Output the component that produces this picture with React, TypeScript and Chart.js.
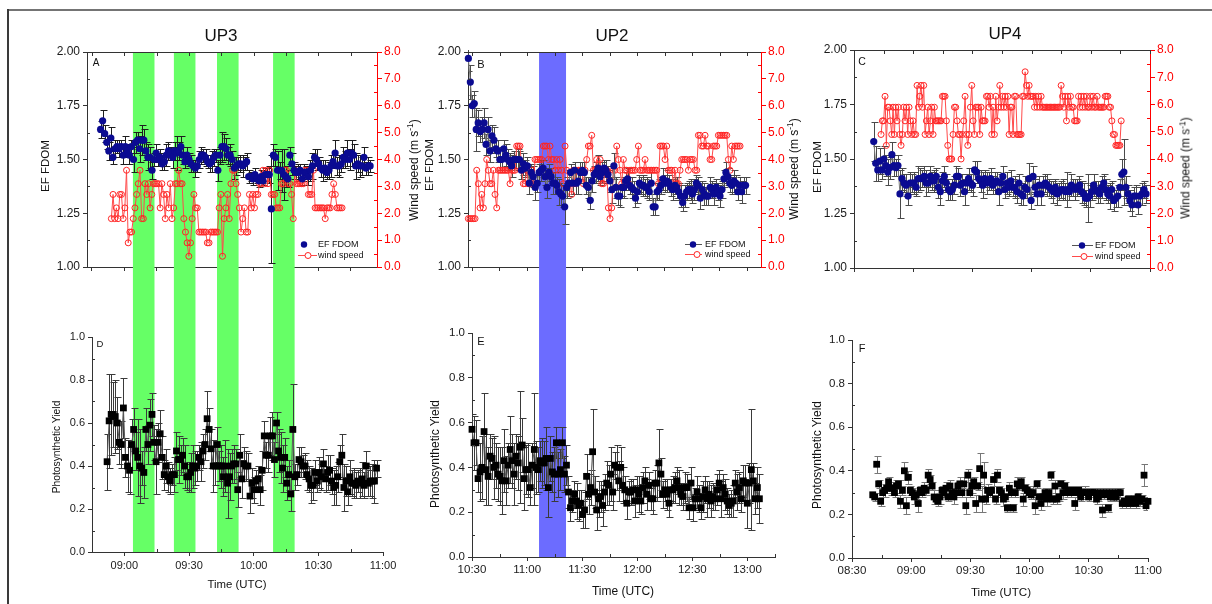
import React, { useEffect, useRef } from "react";
import { Chart, registerables } from "chart.js";

Chart.register(...registerables);

const FONT = '"Liberation Sans", Arial, Helvetica, sans-serif';

// ======================= DATA =======================
// UP3 (column 1)
const UP3_BANDS = [["09:04", "09:14"], ["09:23", "09:33"], ["09:43", "09:53"], ["10:09", "10:19"]];
const UP3_TOP_RANGE = ["08:42.7", "10:57.2"];
const UP3_BOTTOM_RANGE = ["08:45", "11:00"];
const UP3_EF_TIME = ["08:49", "10:54"];
const UP3_EF = [
  1.64, 1.68, 1.62, 1.58, 1.54, 1.60, 1.51, 1.55, 1.56, 1.55,
  1.56, 1.52, 1.56, 1.54, 1.52, 1.56, 1.50, 1.58, 1.59, 1.55,
  1.59, 1.59, 1.54, 1.51, 1.51, 1.45, 1.50, 1.53, 1.50, 1.51,
  1.48, 1.49, 1.52, 1.54, 1.53, 1.51, 1.54, 1.53, 1.54, 1.56,
  1.52, 1.49, 1.52, 1.50, 1.48, 1.47, 1.46, 1.47, 1.50, 1.52,
  1.52, 1.51, 1.49, 1.48, 1.49, 1.51, 1.52, 1.45, 1.52, 1.56,
  1.56, 1.55, 1.52, 1.52, 1.50, 1.46, 1.47, 1.48, 1.48, 1.47,
  1.48, 1.49, 1.42, 1.42, 1.41, 1.43, 1.41, 1.40, 1.42, 1.40,
  1.43, 1.43, 1.43, 1.27, 1.52, 1.51, 1.45, 1.45, 1.45, 1.43,
  1.42, 1.41, 1.52, 1.48, 1.45, 1.44, 1.44, 1.45, 1.41, 1.44,
  1.44, 1.42, 1.45, 1.47, 1.51, 1.50, 1.48, 1.46, 1.45, 1.46,
  1.44, 1.45, 1.47, 1.49, 1.53, 1.47, 1.47, 1.48, 1.51, 1.50,
  1.53, 1.50, 1.53, 1.52, 1.47, 1.48, 1.47, 1.47, 1.51, 1.46,
  1.47, 1.47,
];
const UP3_EF_ERR = [
  0.04, 0.05, 0.04, 0.03, 0.04, 0.05, 0.03, 0.04, 0.03, 0.04,
  0.03, 0.04, 0.05, 0.03, 0.04, 0.03, 0.06, 0.05, 0.04, 0.06,
  0.07, 0.05, 0.04, 0.06, 0.05, 0.04, 0.03, 0.04, 0.03, 0.04,
  0.03, 0.04, 0.05, 0.04, 0.03, 0.05, 0.04, 0.08, 0.04, 0.05,
  0.04, 0.03, 0.04, 0.03, 0.04, 0.03, 0.04, 0.03, 0.04, 0.04,
  0.03, 0.04, 0.03, 0.04, 0.05, 0.04, 0.03, 0.05, 0.04, 0.07,
  0.06, 0.05, 0.04, 0.05, 0.04, 0.05, 0.04, 0.03, 0.04, 0.05,
  0.03, 0.04, 0.03, 0.02, 0.03, 0.03, 0.02, 0.03, 0.03, 0.02,
  0.03, 0.03, 0.04, 0.25, 0.05, 0.04, 0.09, 0.04, 0.10, 0.12,
  0.05, 0.04, 0.04, 0.05, 0.04, 0.03, 0.04, 0.03, 0.03, 0.04,
  0.03, 0.04, 0.05, 0.06, 0.04, 0.05, 0.03, 0.04, 0.05, 0.04,
  0.03, 0.04, 0.05, 0.03, 0.06, 0.04, 0.05, 0.04, 0.05, 0.04,
  0.06, 0.05, 0.06, 0.05, 0.06, 0.04, 0.05, 0.04, 0.05, 0.03,
  0.04, 0.03,
];
const UP3_WIND_TIME = ["08:54", "10:41"];
const UP3_WIND = [
  1.8, 2.7, 1.8, 2.2, 1.8, 2.7, 2.7, 1.8, 2.2, 3.6,
  0.9, 1.3, 1.3, 1.8, 2.2, 2.7, 3.1, 3.6, 1.8, 1.8,
  3.1, 2.7, 3.1, 2.2, 2.7, 3.1, 3.1, 3.1, 3.1, 2.2,
  3.1, 2.7, 1.8, 2.7, 2.2, 3.1, 1.8, 2.2, 3.1, 3.1,
  3.6, 3.1, 3.1, 1.8, 1.3, 0.9, 0.4, 0.9, 1.8, 2.7,
  2.2, 2.2, 1.3, 1.3, 1.3, 1.3, 1.3, 0.9, 0.9, 1.3,
  1.3, 1.3, 1.3, 1.3, 2.2, 2.7, 0.4, 1.8, 2.2, 2.7,
  1.8, 3.1, 3.6, 3.6, 3.1, 2.7, 2.2, 1.3, 1.8, 2.2,
  1.3, 1.3, 2.7, 2.2, 2.7, 2.2, 2.7, 2.7, 3.1, 3.1,
  3.6, 3.1, 3.6, 3.1, 3.6, 2.7, 2.7, 2.7, 2.2, 2.2,
  2.2, 3.1, 3.1, 3.6, 3.6, 3.1, 3.1, 2.7, 1.8, 3.6,
  3.1, 3.1, 3.1, 3.1, 3.1, 3.6, 3.6, 2.7, 2.7, 2.7,
  3.6, 2.2, 2.2, 2.2, 2.2, 2.2, 2.2, 1.8, 2.2, 2.2,
  2.2, 2.7, 3.1, 2.7, 2.2, 2.2, 2.2, 2.2,
];
const UP3_YIELD_TIME = ["08:52", "10:57"];
const UP3_YIELD = [
  0.42, 0.61, 0.64, 0.64, 0.63, 0.60, 0.51, 0.50, 0.67, 0.44,
  0.40, 0.38, 0.50, 0.57, 0.47, 0.44, 0.40, 0.39, 0.37, 0.57,
  0.50, 0.59, 0.64, 0.51, 0.42, 0.51, 0.55, 0.44, 0.36, 0.40,
  0.35, 0.33, 0.36, 0.36, 0.47, 0.43, 0.43, 0.45, 0.40, 0.35,
  0.35, 0.37, 0.40, 0.39, 0.40, 0.44, 0.42, 0.47, 0.50, 0.62,
  0.57, 0.48, 0.40, 0.40, 0.50, 0.40, 0.40, 0.35, 0.40, 0.32,
  0.35, 0.40, 0.41, 0.41, 0.29, 0.45, 0.34, 0.41, 0.40, 0.40,
  0.26, 0.32, 0.29, 0.33, 0.34, 0.29, 0.38, 0.54, 0.45, 0.45,
  0.54, 0.54, 0.43, 0.60, 0.47, 0.44, 0.39, 0.44, 0.32, 0.36,
  0.27, 0.57, 0.35, 0.36, 0.43, 0.42, 0.40, 0.40, 0.36, 0.34,
  0.31, 0.31, 0.37, 0.33, 0.37, 0.35, 0.41, 0.34, 0.37, 0.38,
  0.33, 0.30, 0.31, 0.35, 0.42, 0.45, 0.30, 0.33, 0.28, 0.35,
  0.32, 0.32, 0.31, 0.33, 0.32, 0.34, 0.31, 0.40, 0.32, 0.33,
  0.33, 0.33, 0.39,
];
const UP3_YIELD_ERR = [
  0.13, 0.22, 0.19, 0.15, 0.17, 0.12, 0.10, 0.11, 0.14, 0.09,
  0.12, 0.11, 0.12, 0.10, 0.09, 0.18, 0.17, 0.08, 0.12, 0.10,
  0.09, 0.12, 0.10, 0.08, 0.15, 0.09, 0.11, 0.10, 0.07, 0.08,
  0.07, 0.06, 0.05, 0.08, 0.09, 0.11, 0.07, 0.08, 0.10, 0.06,
  0.07, 0.09, 0.10, 0.08, 0.07, 0.06, 0.09, 0.08, 0.07, 0.13,
  0.10, 0.09, 0.12, 0.09, 0.08, 0.07, 0.10, 0.09, 0.12, 0.16,
  0.11, 0.08, 0.09, 0.07, 0.08, 0.10, 0.09, 0.08, 0.07, 0.06,
  0.08, 0.07, 0.06, 0.05, 0.06, 0.07, 0.09, 0.07, 0.06, 0.08,
  0.09, 0.11, 0.08, 0.05, 0.10, 0.12, 0.11, 0.09, 0.08, 0.07,
  0.08, 0.21, 0.06, 0.05, 0.06, 0.07, 0.05, 0.06, 0.07, 0.06,
  0.08, 0.07, 0.06, 0.05, 0.07, 0.06, 0.07, 0.06, 0.08, 0.07,
  0.06, 0.08, 0.09, 0.07, 0.08, 0.10, 0.11, 0.07, 0.06, 0.08,
  0.06, 0.07, 0.06, 0.05, 0.07, 0.08, 0.06, 0.07, 0.06, 0.07,
  0.08, 0.10, 0.04,
];

// UP2 (column 2)
const UP2_BANDS = [["11:06.5", "11:21.2"]];
const UP2_TOP_RANGE = ["10:27.8", "13:07.4"];
const UP2_BOTTOM_RANGE = ["10:30", "13:15"];
const UP2_EF_TIME = ["10:28", "12:59"];
const UP2_EF = [
  1.97, 1.86, 1.75, 1.76, 1.64, 1.67, 1.63, 1.64, 1.67, 1.57,
  1.64, 1.54, 1.61, 1.59, 1.55, 1.54, 1.50, 1.50, 1.55, 1.52,
  1.50, 1.49, 1.47, 1.50, 1.50, 1.50, 1.50, 1.45, 1.48, 1.46,
  1.47, 1.39, 1.44, 1.42, 1.37, 1.39, 1.44, 1.45, 1.46, 1.42,
  1.37, 1.44, 1.42, 1.39, 1.39, 1.38, 1.35, 1.34, 1.33, 1.28,
  1.37, 1.39, 1.44, 1.39, 1.45, 1.39, 1.40, 1.44, 1.45, 1.44,
  1.38, 1.37, 1.31, 1.40, 1.43, 1.44, 1.46, 1.42, 1.44, 1.46,
  1.45, 1.43, 1.40, 1.36, 1.47, 1.37, 1.33, 1.33, 1.37, 1.37,
  1.40, 1.41, 1.38, 1.37, 1.36, 1.32, 1.35, 1.39, 1.38, 1.38,
  1.37, 1.37, 1.35, 1.39, 1.28, 1.28, 1.35, 1.36, 1.38, 1.41,
  1.39, 1.40, 1.39, 1.37, 1.36, 1.38, 1.37, 1.35, 1.33, 1.30,
  1.33, 1.35, 1.36, 1.36, 1.34, 1.36, 1.39, 1.38, 1.32, 1.36,
  1.34, 1.33, 1.33, 1.37, 1.36, 1.34, 1.37, 1.35, 1.33, 1.36,
  1.41, 1.44, 1.42, 1.39, 1.38, 1.40, 1.39, 1.35, 1.38, 1.35,
  1.38, 1.38,
];
const UP2_EF_ERR = [
  0.06, 0.08, 0.05, 0.06, 0.10, 0.06, 0.05, 0.06, 0.07, 0.05,
  0.06, 0.05, 0.05, 0.06, 0.04, 0.05, 0.05, 0.06, 0.04, 0.05,
  0.05, 0.04, 0.05, 0.04, 0.04, 0.05, 0.04, 0.04, 0.05, 0.04,
  0.04, 0.05, 0.04, 0.05, 0.06, 0.04, 0.04, 0.05, 0.04, 0.04,
  0.05, 0.04, 0.04, 0.05, 0.05, 0.04, 0.06, 0.05, 0.05, 0.08,
  0.05, 0.06, 0.04, 0.05, 0.04, 0.05, 0.06, 0.05, 0.04, 0.05,
  0.04, 0.05, 0.04, 0.05, 0.04, 0.05, 0.06, 0.04, 0.05, 0.04,
  0.05, 0.04, 0.05, 0.06, 0.06, 0.05, 0.04, 0.05, 0.04, 0.05,
  0.04, 0.05, 0.04, 0.05, 0.04, 0.04, 0.05, 0.04, 0.04, 0.05,
  0.04, 0.05, 0.04, 0.05, 0.04, 0.04, 0.04, 0.05, 0.04, 0.05,
  0.04, 0.05, 0.04, 0.04, 0.05, 0.04, 0.05, 0.04, 0.05, 0.04,
  0.05, 0.04, 0.04, 0.05, 0.04, 0.05, 0.04, 0.04, 0.05, 0.04,
  0.05, 0.04, 0.04, 0.05, 0.04, 0.05, 0.04, 0.04, 0.05, 0.04,
  0.04, 0.05, 0.04, 0.04, 0.04, 0.05, 0.04, 0.04, 0.04, 0.05,
  0.04, 0.04,
];
const UP2_WIND_TIME = ["10:28", "12:56"];
const UP2_WIND = [
  1.8, 1.8, 1.8, 1.8, 1.8, 3.6, 3.1, 2.2, 2.7, 2.2,
  3.1, 4.0, 3.6, 3.1, 3.1, 3.6, 2.7, 2.2, 3.6, 3.6,
  3.6, 3.6, 3.6, 3.6, 3.6, 3.1, 3.6, 3.6, 3.6, 4.5,
  4.5, 4.5, 3.6, 3.1, 3.1, 3.6, 3.1, 3.1, 3.6, 3.1,
  4.0, 4.0, 4.0, 4.0, 4.0, 4.5, 4.5, 4.5, 4.0, 4.5,
  4.0, 4.0, 3.6, 4.0, 3.6, 4.0, 3.6, 3.1, 4.5, 3.6,
  3.1, 3.1, 2.7, 3.6, 3.1, 3.6, 3.6, 3.6, 3.6, 3.1,
  3.6, 4.0, 4.5, 4.5, 4.9, 3.6, 3.6, 4.0, 3.6, 4.0,
  3.1, 3.1, 3.6, 3.6, 2.2, 1.8, 2.2, 3.6, 3.6, 4.5,
  4.0, 3.6, 3.1, 4.0, 3.6, 3.6, 3.1, 3.6, 3.6, 3.6,
  3.6, 4.0, 4.5, 3.6, 3.6, 3.6, 4.0, 3.6, 3.6, 3.6,
  3.6, 3.6, 3.6, 3.6, 3.1, 4.5, 4.5, 4.5, 4.0, 4.5,
  3.6, 3.6, 3.6, 3.1, 3.6, 3.1, 3.1, 3.6, 4.0, 4.0,
  4.0, 4.0, 3.6, 4.0, 4.0, 4.0, 3.6, 3.6, 4.9, 4.9,
  4.5, 4.5, 4.9, 4.5, 4.5, 4.0, 4.0, 4.5, 4.5, 4.5,
  4.9, 4.9, 4.9, 4.9, 4.9, 4.9, 4.0, 3.6, 4.5, 4.0,
  4.5, 4.5, 4.5, 4.5,
];
const UP2_YIELD_TIME = ["10:30", "13:06.5"];
const UP2_YIELD = [
  0.57, 0.51, 0.51, 0.35, 0.38, 0.40, 0.56, 0.39, 0.36, 0.45,
  0.44, 0.40, 0.41, 0.37, 0.36, 0.34, 0.43, 0.34, 0.41, 0.48,
  0.43, 0.37, 0.45, 0.42, 0.49, 0.50, 0.35, 0.39, 0.39, 0.31,
  0.41, 0.48, 0.40, 0.39, 0.43, 0.42, 0.42, 0.44, 0.31, 0.44,
  0.38, 0.37, 0.51, 0.37, 0.39, 0.51, 0.37, 0.41, 0.29, 0.22,
  0.25, 0.28, 0.25, 0.23, 0.24, 0.19, 0.21, 0.36, 0.28, 0.31,
  0.47, 0.29, 0.21, 0.26, 0.27, 0.23, 0.29, 0.33, 0.32, 0.37,
  0.29, 0.41, 0.40, 0.34, 0.40, 0.32, 0.30, 0.24, 0.29, 0.29,
  0.30, 0.25, 0.30, 0.28, 0.25, 0.31, 0.34, 0.28, 0.32, 0.26,
  0.26, 0.33, 0.33, 0.42, 0.37, 0.28, 0.30, 0.28, 0.24, 0.30,
  0.30, 0.31, 0.34, 0.31, 0.28, 0.27, 0.31, 0.31, 0.22, 0.33,
  0.22, 0.26, 0.29, 0.26, 0.22, 0.27, 0.30, 0.26, 0.28, 0.25,
  0.27, 0.26, 0.30, 0.33, 0.26, 0.31, 0.28, 0.25, 0.23, 0.24,
  0.25, 0.33, 0.29, 0.31, 0.26, 0.34, 0.33, 0.24, 0.33, 0.39,
  0.34, 0.26, 0.31, 0.26,
];
const UP2_YIELD_ERR = [
  0.07, 0.12, 0.10, 0.06, 0.13, 0.14, 0.17, 0.16, 0.13, 0.10,
  0.09, 0.14, 0.10, 0.12, 0.13, 0.15, 0.14, 0.11, 0.10, 0.15,
  0.12, 0.14, 0.10, 0.12, 0.25, 0.12, 0.14, 0.11, 0.12, 0.08,
  0.10, 0.25, 0.12, 0.10, 0.09, 0.11, 0.10, 0.14, 0.13, 0.10,
  0.09, 0.12, 0.07, 0.10, 0.09, 0.07, 0.08, 0.09, 0.07, 0.06,
  0.05, 0.06, 0.08, 0.07, 0.06, 0.06, 0.08, 0.10, 0.09, 0.08,
  0.19, 0.07, 0.09, 0.08, 0.07, 0.09, 0.08, 0.10, 0.09, 0.12,
  0.08, 0.06, 0.10, 0.09, 0.09, 0.08, 0.06, 0.07, 0.05, 0.06,
  0.05, 0.07, 0.06, 0.08, 0.06, 0.07, 0.06, 0.07, 0.06, 0.05,
  0.07, 0.06, 0.08, 0.15, 0.07, 0.06, 0.05, 0.07, 0.06, 0.05,
  0.06, 0.07, 0.06, 0.08, 0.05, 0.06, 0.07, 0.06, 0.05, 0.07,
  0.06, 0.05, 0.07, 0.06, 0.05, 0.07, 0.06, 0.08, 0.06, 0.07,
  0.06, 0.05, 0.07, 0.06, 0.08, 0.06, 0.07, 0.06, 0.05, 0.06,
  0.07, 0.06, 0.08, 0.07, 0.06, 0.07, 0.08, 0.11, 0.09, 0.27,
  0.08, 0.07, 0.09, 0.11,
];

// UP4 (column 3)
const UP4_TOP_RANGE = ["08:30", "11:00"];
const UP4_BOTTOM_RANGE = ["08:30", "11:00"];
const UP4_EF_TIME = ["08:40", "10:58"];
const UP4_EF = [
  1.58, 1.48, 1.45, 1.49, 1.45, 1.50, 1.47, 1.44, 1.46, 1.52,
  1.47, 1.46, 1.47, 1.34, 1.41, 1.39, 1.38, 1.33, 1.39, 1.39,
  1.39, 1.37, 1.41, 1.41, 1.41, 1.42, 1.39, 1.39, 1.42, 1.40,
  1.40, 1.42, 1.37, 1.35, 1.40, 1.42, 1.39, 1.36, 1.35, 1.36,
  1.38, 1.42, 1.42, 1.38, 1.39, 1.35, 1.39, 1.41, 1.39, 1.38,
  1.45, 1.44, 1.41, 1.40, 1.38, 1.41, 1.39, 1.40, 1.41, 1.38,
  1.39, 1.40, 1.35, 1.39, 1.42, 1.36, 1.39, 1.37, 1.40, 1.37,
  1.37, 1.35, 1.39, 1.34, 1.33, 1.37, 1.36, 1.41, 1.31, 1.42,
  1.37, 1.34, 1.38, 1.34, 1.38, 1.39, 1.38, 1.37, 1.36, 1.35,
  1.37, 1.34, 1.35, 1.36, 1.36, 1.35, 1.36, 1.35, 1.38, 1.37,
  1.36, 1.37, 1.38, 1.35, 1.34, 1.32, 1.32, 1.33, 1.35, 1.38,
  1.36, 1.35, 1.34, 1.37, 1.39, 1.36, 1.34, 1.33, 1.36, 1.31,
  1.32, 1.33, 1.37, 1.43, 1.44, 1.37, 1.34, 1.31, 1.29, 1.33,
  1.33, 1.29, 1.33, 1.34, 1.36, 1.34,
];
const UP4_EF_ERR = [
  0.09, 0.08, 0.05, 0.06, 0.04, 0.06, 0.05, 0.06, 0.05, 0.06,
  0.05, 0.04, 0.05, 0.11, 0.05, 0.04, 0.05, 0.04, 0.05, 0.04,
  0.05, 0.04, 0.06, 0.05, 0.04, 0.05, 0.06, 0.04, 0.05, 0.04,
  0.05, 0.04, 0.05, 0.06, 0.04, 0.05, 0.04, 0.05, 0.04, 0.05,
  0.04, 0.05, 0.04, 0.05, 0.04, 0.06, 0.04, 0.05, 0.04, 0.05,
  0.04, 0.05, 0.04, 0.05, 0.06, 0.04, 0.05, 0.04, 0.05, 0.04,
  0.05, 0.04, 0.06, 0.04, 0.05, 0.04, 0.05, 0.04, 0.05, 0.04,
  0.05, 0.05, 0.04, 0.05, 0.04, 0.05, 0.04, 0.07, 0.04, 0.05,
  0.04, 0.05, 0.04, 0.05, 0.04, 0.04, 0.05, 0.04, 0.04, 0.05,
  0.04, 0.05, 0.04, 0.04, 0.05, 0.04, 0.08, 0.04, 0.05, 0.04,
  0.05, 0.04, 0.04, 0.05, 0.05, 0.04, 0.11, 0.05, 0.04, 0.05,
  0.04, 0.05, 0.04, 0.05, 0.04, 0.05, 0.04, 0.06, 0.04, 0.05,
  0.04, 0.05, 0.04, 0.07, 0.15, 0.05, 0.04, 0.05, 0.05, 0.04,
  0.05, 0.04, 0.04, 0.05, 0.04, 0.04,
];
const UP4_WIND_TIME = ["08:43.7", "10:45.4"];
const UP4_WIND = [
  4.9, 5.4, 5.4, 6.3, 4.5, 5.9, 5.9, 5.4, 4.9, 5.9,
  4.9, 5.9, 5.4, 5.9, 4.9, 4.5, 4.9, 5.9, 5.4, 5.9,
  4.9, 5.9, 5.4, 4.9, 5.4, 4.9, 4.9, 6.7, 5.9, 6.3,
  6.7, 5.9, 6.7, 4.9, 5.4, 5.9, 4.9, 5.4, 5.9, 4.9,
  5.9, 5.4, 5.4, 5.4, 5.4, 5.4, 6.3, 6.3, 6.3, 5.4,
  4.5, 4.0, 4.0, 4.0, 4.9, 5.9, 5.9, 5.4, 4.9, 4.9,
  4.0, 4.9, 5.4, 6.3, 4.9, 4.5, 4.9, 5.9, 6.7, 5.4,
  4.9, 5.9, 5.9, 5.9, 4.9, 5.9, 5.4, 5.4, 5.4, 6.3,
  6.3, 5.9, 6.3, 4.9, 5.9, 4.9, 6.3, 5.4, 5.9, 6.7,
  5.9, 6.3, 5.9, 6.3, 5.9, 6.3, 4.9, 5.9, 5.9, 4.9,
  6.3, 6.3, 4.9, 4.9, 4.9, 4.9, 6.3, 6.3, 7.2, 6.7,
  6.3, 6.7, 6.3, 6.3, 6.3, 5.9, 6.3, 5.9, 6.3, 5.9,
  6.3, 5.9, 5.9, 5.9, 5.9, 5.9, 5.9, 5.9, 5.9, 5.9,
  5.9, 5.9, 5.9, 5.9, 5.9, 6.7, 6.3, 5.9, 6.3, 5.4,
  6.3, 5.9, 6.3, 5.9, 5.9, 5.4, 5.4, 5.4, 6.3, 5.9,
  6.3, 5.9, 6.3, 5.9, 6.3, 5.9, 5.9, 6.3, 5.9, 6.3,
  5.9, 5.9, 6.3, 5.9, 5.9, 5.9, 5.9, 5.9, 6.3, 6.3,
  6.3, 5.9, 5.9, 5.4, 4.9, 4.9, 4.5, 4.5, 4.5, 4.5,
  5.4,
];
const UP4_YIELD_TIME = ["08:40.5", "11:00"];
const UP4_YIELD = [
  0.29, 0.28, 0.43, 0.34, 0.26, 0.30, 0.31, 0.32, 0.35, 0.32,
  0.32, 0.30, 0.33, 0.34, 0.26, 0.31, 0.40, 0.24, 0.37, 0.31,
  0.30, 0.28, 0.29, 0.25, 0.31, 0.30, 0.32, 0.31, 0.38, 0.36,
  0.33, 0.28, 0.27, 0.26, 0.28, 0.31, 0.30, 0.32, 0.28, 0.33,
  0.30, 0.28, 0.30, 0.33, 0.34, 0.30, 0.34, 0.24, 0.38, 0.30,
  0.33, 0.35, 0.25, 0.33, 0.41, 0.27, 0.38, 0.27, 0.31, 0.30,
  0.31, 0.36, 0.27, 0.38, 0.31, 0.30, 0.27, 0.28, 0.23, 0.32,
  0.30, 0.23, 0.30, 0.34, 0.33, 0.35, 0.27, 0.32, 0.31, 0.30,
  0.29, 0.30, 0.24, 0.34, 0.28, 0.25, 0.28, 0.30, 0.27, 0.30,
  0.38, 0.27, 0.33, 0.27, 0.28, 0.34, 0.30, 0.33, 0.30, 0.31,
  0.30, 0.31, 0.25, 0.30, 0.31, 0.28, 0.30, 0.30, 0.30, 0.28,
  0.30, 0.30, 0.30, 0.27, 0.28, 0.30, 0.22, 0.29, 0.30, 0.23,
  0.28, 0.30, 0.28, 0.28, 0.30, 0.30, 0.25, 0.26, 0.25, 0.27,
  0.25, 0.26, 0.27, 0.25, 0.28, 0.26, 0.27, 0.38, 0.24, 0.26,
];
const UP4_YIELD_ERR = [
  0.01, 0.02, 0.04, 0.02, 0.02, 0.02, 0.03, 0.02, 0.02, 0.03,
  0.02, 0.02, 0.03, 0.02, 0.03, 0.02, 0.04, 0.04, 0.03, 0.02,
  0.02, 0.03, 0.02, 0.04, 0.02, 0.02, 0.03, 0.02, 0.03, 0.02,
  0.02, 0.03, 0.02, 0.02, 0.03, 0.02, 0.02, 0.03, 0.02, 0.03,
  0.02, 0.03, 0.02, 0.02, 0.03, 0.02, 0.03, 0.04, 0.03, 0.02,
  0.03, 0.02, 0.04, 0.02, 0.07, 0.06, 0.06, 0.02, 0.03, 0.02,
  0.02, 0.03, 0.02, 0.03, 0.02, 0.02, 0.03, 0.02, 0.02, 0.03,
  0.02, 0.02, 0.02, 0.03, 0.02, 0.02, 0.03, 0.02, 0.02, 0.02,
  0.02, 0.03, 0.04, 0.02, 0.02, 0.03, 0.02, 0.02, 0.03, 0.02,
  0.02, 0.02, 0.03, 0.02, 0.02, 0.02, 0.03, 0.02, 0.02, 0.02,
  0.02, 0.02, 0.03, 0.02, 0.02, 0.02, 0.02, 0.03, 0.02, 0.02,
  0.02, 0.02, 0.02, 0.02, 0.02, 0.02, 0.03, 0.02, 0.02, 0.02,
  0.02, 0.02, 0.02, 0.02, 0.02, 0.02, 0.02, 0.02, 0.02, 0.02,
  0.02, 0.02, 0.02, 0.02, 0.02, 0.02, 0.02, 0.05, 0.02, 0.02,
];

// axis definitions [min, max, step]
const EF_AXIS = [1, 2, 0.25];
const WIND_AXIS = [0, 8, 1];
const YIELD_AXIS = [0, 1, 0.2];

// ======================= STYLE / LAYOUT =======================
const NAVY = "#0b0b92";
const RED = "#ff2424";
const GREEN_BAND = "#66ff66";
const BLUE_BAND = "#6c6cff";
const AXIS = "#333";

type Rect = { l: number; t: number; r: number; b: number };
const RECT_A: Rect = { l: 87, t: 52, r: 377, b: 267 };
const RECT_B: Rect = { l: 468, t: 52, r: 761, b: 267 };
const RECT_C: Rect = { l: 854, t: 50, r: 1150, b: 268 };
const RECT_D: Rect = { l: 92, t: 337, r: 383, b: 552 };
const RECT_E: Rect = { l: 472, t: 333, r: 775, b: 557 };
const RECT_F: Rect = { l: 852, t: 340, r: 1148, b: 558 };
const SPLIT_Y = 300;

// ======================= HELPERS =======================
function hm(s: string): number {
  const [h, m] = s.split(":");
  return parseInt(h, 10) * 60 + parseFloat(m);
}
function fmt(v: number): string {
  const h = Math.floor(v / 60 + 1e-9);
  const m = Math.round(v - h * 60);
  return `${String(h).padStart(2, "0")}:${String(m).padStart(2, "0")}`;
}
function series(range: string[], values: number[]) {
  const a = hm(range[0]);
  const b = hm(range[1]);
  const n = values.length;
  return values.map((y, i) => ({ x: a + ((b - a) * i) / (n - 1), y }));
}
const keepMultiples = (step: number) => (axis: any) => {
  axis.ticks = axis.ticks.filter((t: any) => Math.abs(t.value / step - Math.round(t.value / step)) < 1e-6);
};
function stepValues(min: number, max: number, step: number, skip?: number) {
  const out: number[] = [];
  const k0 = Math.ceil(min / step - 1e-9);
  for (let k = k0; k * step <= max + 1e-9; k++) {
    const v = k * step;
    if (skip && Math.abs(v / skip - Math.round(v / skip)) < 1e-6) continue;
    out.push(v);
  }
  return out;
}

// ======================= PLUGINS =======================
function bandPlugin(bands: string[][] | undefined, color: string, extend: "down" | "up") {
  return {
    id: "bands",
    beforeDatasetsDraw(chart: any) {
      if (!bands) return;
      const { ctx, chartArea } = chart;
      const xs = chart.scales.x;
      const y0 = extend === "down" ? chartArea.top : 0;
      const y1 = extend === "down" ? chart.height : chartArea.bottom;
      ctx.save();
      ctx.fillStyle = color;
      bands.forEach(([a, b]) => {
        const x0 = xs.getPixelForValue(hm(a));
        const x1 = xs.getPixelForValue(hm(b));
        ctx.fillRect(x0, y0, x1 - x0, y1 - y0);
      });
      ctx.restore();
    },
  };
}

const errorBarPlugin = {
  id: "errbars",
  beforeDatasetsDraw(chart: any) {
    const { ctx, chartArea } = chart;
    chart.data.datasets.forEach((ds: any) => {
      if (!ds.errors) return;
      const xs = chart.scales.x;
      const ys = chart.scales[ds.yAxisID || "y"];
      ctx.save();
      ctx.beginPath();
      ctx.rect(chartArea.left, chartArea.top - 2, chartArea.right - chartArea.left, chartArea.bottom - chartArea.top + 2);
      ctx.clip();
      ctx.strokeStyle = ds.errorColor || "#444";
      ctx.lineWidth = 1;
      ds.data.forEach((p: any, i: number) => {
        const e = ds.errors[i];
        if (!e) return;
        const x = Math.round(xs.getPixelForValue(p.x)) + 0.5;
        const yt = Math.round(ys.getPixelForValue(p.y + e)) + 0.5;
        const yb = Math.round(ys.getPixelForValue(p.y - e)) + 0.5;
        ctx.beginPath();
        ctx.moveTo(x, yt);
        ctx.lineTo(x, yb);
        ctx.moveTo(x - 3, yt);
        ctx.lineTo(x + 4, yt);
        ctx.moveTo(x - 3, yb);
        ctx.lineTo(x + 4, yb);
        ctx.stroke();
      });
      ctx.restore();
    });
  },
};

function framePlugin(o: any) {
  return {
    id: "frame",
    afterDatasetsDraw(chart: any) {
      const { ctx, chartArea: ca, scales } = chart;
      const line = (x0: number, y0: number, x1: number, y1: number) => {
        ctx.beginPath();
        ctx.moveTo(x0, y0);
        ctx.lineTo(x1, y1);
        ctx.stroke();
      };
      const rp = (v: number) => Math.round(v) + 0.5;
      ctx.save();
      ctx.lineWidth = 1;
      ctx.strokeStyle = AXIS;
      if (o.topLine) {
        line(ca.left, rp(ca.top), ca.right, rp(ca.top));
        stepValues(scales.x.min, scales.x.max, o.topStep).forEach((v) => {
          const px = rp(scales.x.getPixelForValue(v));
          line(px, ca.top, px, ca.top + 4);
        });
      }
      if (o.xMinor) {
        stepValues(scales.x.min, scales.x.max, o.xMinor, o.xMajor).forEach((v) => {
          const px = rp(scales.x.getPixelForValue(v));
          line(px, ca.bottom, px, ca.bottom - 3);
        });
      }
      if (o.yMinor) {
        const ys = scales.y;
        stepValues(ys.min, ys.max, o.yMinor, o.yMajor).forEach((v) => {
          const py = rp(ys.getPixelForValue(v));
          line(ca.left, py, ca.left + 3, py);
        });
      }
      if (o.y2Minor && scales.y2) {
        ctx.strokeStyle = "#ff0000";
        const ys = scales.y2;
        stepValues(ys.min, ys.max, o.y2Minor, o.y2Major).forEach((v) => {
          const py = rp(ys.getPixelForValue(v));
          line(ca.right, py, ca.right - 3, py);
        });
      }
      ctx.restore();
    },
  };
}

function legendPlugin(spec: any) {
  return {
    id: "legendbox",
    afterDraw(chart: any) {
      const { ctx, chartArea: ca } = chart;
      ctx.save();
      ctx.font = `9px ${FONT}`;
      ctx.textBaseline = "middle";
      ctx.textAlign = "left";
      spec.rows.forEach((row: any) => {
        const y = Math.round(ca.bottom - row.dy) + 0.5;
        if (row.line) {
          ctx.strokeStyle = row.line[2];
          ctx.lineWidth = 1;
          ctx.beginPath();
          ctx.moveTo(ca.right - row.line[0], y);
          ctx.lineTo(ca.right - row.line[1], y);
          ctx.stroke();
        }
        if (row.dot) {
          ctx.fillStyle = NAVY;
          ctx.beginPath();
          ctx.arc(ca.right - row.dot, y, 3.2, 0, Math.PI * 2);
          ctx.fill();
        }
        if (row.ring) {
          ctx.strokeStyle = RED;
          ctx.fillStyle = "#fff";
          ctx.beginPath();
          ctx.arc(ca.right - row.ring, y, 3, 0, Math.PI * 2);
          ctx.fill();
          ctx.stroke();
        }
        ctx.fillStyle = "#111";
        ctx.fillText(row.label, ca.right - spec.textX, y + 0.5);
      });
      ctx.restore();
    },
  };
}

// ======================= CHART CONFIGS =======================
const TOP_WL = 50, TOP_WR = 36, TOP_PT = 12, TOP_HX = 8;
const BOT_WL = 45, BOT_PR = 24, BOT_HX = 34;

function topGeom(r: Rect) {
  const top = r.t - TOP_PT;
  return {
    left: r.l - TOP_WL,
    top,
    width: r.r - r.l + TOP_WL + TOP_WR,
    height: SPLIT_Y - top,
    padBottom: SPLIT_Y - TOP_HX - r.b,
  };
}
function botGeom(r: Rect) {
  return {
    left: r.l - BOT_WL,
    top: SPLIT_Y,
    width: r.r - r.l + BOT_WL + BOT_PR,
    height: r.b - SPLIT_Y + BOT_HX,
    padTop: r.t - SPLIT_Y,
  };
}

function topConfig(p: any) {
  const g = topGeom(p.rect);
  const tickFont = { family: FONT, size: 12 };
  return {
    type: "scatter",
    data: {
      datasets: [
        {
          label: "EF FDOM",
          data: series(p.efTime, p.ef),
          errors: p.efErr,
          errorColor: p.errColor,
          yAxisID: "y",
          showLine: p.efLine,
          borderColor: "#7a7a7a",
          borderWidth: 1,
          pointStyle: "circle",
          pointRadius: 3.6,
          pointBackgroundColor: NAVY,
          pointBorderColor: NAVY,
          pointBorderWidth: 0,
          clip: 8,
        },
        {
          label: "wind speed",
          data: series(p.windTime, p.wind),
          yAxisID: "y2",
          showLine: true,
          borderColor: "#ff4a4a",
          borderWidth: 1,
          pointStyle: "circle",
          pointRadius: 3,
          pointBackgroundColor: "rgba(255,255,255,0)",
          pointBorderColor: RED,
          pointBorderWidth: 1,
          clip: 8,
        },
      ],
    },
    options: {
      responsive: false,
      animation: false,
      devicePixelRatio: 1,
      events: [],
      layout: { padding: { left: 0, right: 0, top: TOP_PT, bottom: g.padBottom } },
      plugins: { legend: { display: false }, tooltip: { enabled: false }, title: { display: false } },
      scales: {
        x: {
          type: "linear",
          min: hm(p.range[0]),
          max: hm(p.range[1]),
          ticks: { display: false, stepSize: p.xStep, includeBounds: false },
          afterBuildTicks: keepMultiples(p.xStep),
          afterFit: (s: any) => { s.height = TOP_HX; },
          grid: { drawOnChartArea: false, drawTicks: true, tickLength: 4, color: AXIS },
          border: { display: true, color: AXIS },
        },
        y: {
          position: "left",
          min: EF_AXIS[0],
          max: EF_AXIS[1],
          ticks: { stepSize: EF_AXIS[2], callback: (v: any) => Number(v).toFixed(2), font: tickFont, color: "#1a1a1a", padding: 3 },
          afterFit: (s: any) => { s.width = TOP_WL; },
          grid: { drawOnChartArea: false, tickLength: 4, color: AXIS },
          border: { display: true, color: AXIS },
        },
        y2: {
          type: "linear",
          position: "right",
          min: WIND_AXIS[0],
          max: WIND_AXIS[1],
          ticks: { stepSize: WIND_AXIS[2], callback: (v: any) => Number(v).toFixed(1), font: tickFont, color: "#ff0000", padding: 2 },
          afterFit: (s: any) => { s.width = TOP_WR; },
          grid: { drawOnChartArea: false, tickLength: 5, color: "#ff0000" },
          border: { display: true, color: "#ff0000" },
        },
      },
    },
    plugins: [
      bandPlugin(p.bands, p.bandColor, "down"),
      errorBarPlugin,
      framePlugin({ topLine: true, topStep: 15, yMinor: EF_AXIS[2] / 2, yMajor: EF_AXIS[2], y2Minor: WIND_AXIS[2] / 2, y2Major: WIND_AXIS[2] }),
      legendPlugin(p.legend),
    ],
  };
}

function bottomConfig(p: any) {
  const g = botGeom(p.rect);
  const tickFont = { family: FONT, size: p.fontSize };
  return {
    type: "scatter",
    data: {
      datasets: [
        {
          label: "Photosynthetic Yield",
          data: series(p.time, p.values),
          errors: p.errors,
          errorColor: p.errColor,
          yAxisID: "y",
          showLine: p.line,
          borderColor: "#5a5a5a",
          borderWidth: 1,
          pointStyle: "rect",
          pointRadius: 4.8,
          pointBackgroundColor: "#000",
          pointBorderColor: "#000",
          pointBorderWidth: 0,
          clip: 8,
        },
      ],
    },
    options: {
      responsive: false,
      animation: false,
      devicePixelRatio: 1,
      events: [],
      layout: { padding: { left: 0, right: BOT_PR, top: g.padTop, bottom: 0 } },
      plugins: { legend: { display: false }, tooltip: { enabled: false }, title: { display: false } },
      scales: {
        x: {
          type: "linear",
          min: hm(p.range[0]),
          max: hm(p.range[1]),
          ticks: { stepSize: 30, includeBounds: false, callback: (v: any) => fmt(Number(v)), font: tickFont, color: "#1a1a1a", padding: p.xPad, maxRotation: 0, autoSkip: false },
          afterBuildTicks: keepMultiples(30),
          afterFit: (s: any) => { s.height = BOT_HX; },
          grid: { drawOnChartArea: false, drawTicks: true, tickLength: 4, color: AXIS },
          border: { display: true, color: AXIS },
        },
        y: {
          position: "left",
          min: YIELD_AXIS[0],
          max: YIELD_AXIS[1],
          ticks: { stepSize: YIELD_AXIS[2], callback: (v: any) => Number(v).toFixed(1), font: tickFont, color: "#1a1a1a", padding: 3 },
          afterFit: (s: any) => { s.width = BOT_WL; },
          grid: { drawOnChartArea: false, tickLength: 4, color: AXIS },
          border: { display: true, color: AXIS },
        },
      },
    },
    plugins: [
      bandPlugin(p.bands, p.bandColor, "up"),
      errorBarPlugin,
      framePlugin({ xMinor: 15, xMajor: 30, yMinor: YIELD_AXIS[2] / 2, yMajor: YIELD_AXIS[2] }),
    ],
  };
}

// ======================= COMPONENTS =======================
function ChartCanvas({ geom, config }: { geom: any; config: any }) {
  const ref = useRef<HTMLCanvasElement | null>(null);
  useEffect(() => {
    if (!ref.current) return;
    const c = new Chart(ref.current, config);
    return () => c.destroy();
  }, []);
  return (
    <canvas
      ref={ref}
      width={geom.width}
      height={geom.height}
      style={{ position: "absolute", left: geom.left, top: geom.top, width: geom.width, height: geom.height }}
    />
  );
}

function Txt({ x, y, size, rot, color, children }: any) {
  return (
    <div
      style={{
        position: "absolute",
        left: x,
        top: y,
        transform: `translate(-50%, -50%)${rot ? " rotate(-90deg)" : ""}`,
        fontSize: size,
        fontFamily: FONT,
        color: color || "#111",
        whiteSpace: "nowrap",
        lineHeight: 1,
      }}
    >
      {children}
    </div>
  );
}

const Wind = () => (
  <>
    Wind speed (m s<span style={{ fontSize: "0.7em", verticalAlign: "0.5em" }}>-1</span>)
  </>
);

const TOPS = [
  {
    rect: RECT_A, range: UP3_TOP_RANGE, xStep: 15,
    efTime: UP3_EF_TIME, ef: UP3_EF, efErr: UP3_EF_ERR, efLine: false, errColor: "#1e1e1e",
    windTime: UP3_WIND_TIME, wind: UP3_WIND,
    bands: UP3_BANDS, bandColor: GREEN_BAND,
    legend: { textX: 59, rows: [
      { label: "EF FDOM", dy: 23, dot: 73 },
      { label: "wind speed", dy: 12, ring: 69, line: [79, 60, "#ff4a4a"] },
    ] },
  },
  {
    rect: RECT_B, range: UP2_TOP_RANGE, xStep: 15,
    efTime: UP2_EF_TIME, ef: UP2_EF, efErr: UP2_EF_ERR, efLine: true, errColor: "#4a4a4a",
    windTime: UP2_WIND_TIME, wind: UP2_WIND,
    bands: UP2_BANDS, bandColor: BLUE_BAND,
    legend: { textX: 56, rows: [
      { label: "EF FDOM", dy: 23, dot: 68, line: [76, 59, "#555"] },
      { label: "wind speed", dy: 13, ring: 64, line: [76, 59, "#ff4a4a"] },
    ] },
  },
  {
    rect: RECT_C, range: UP4_TOP_RANGE, xStep: 30,
    efTime: UP4_EF_TIME, ef: UP4_EF, efErr: UP4_EF_ERR, efLine: true, errColor: "#4a4a4a",
    windTime: UP4_WIND_TIME, wind: UP4_WIND,
    bands: undefined, bandColor: GREEN_BAND,
    legend: { textX: 55, rows: [
      { label: "EF FDOM", dy: 23, dot: 68, line: [78, 57, "#555"] },
      { label: "wind speed", dy: 12, ring: 66, line: [78, 57, "#ff4a4a"] },
    ] },
  },
];

const BOTTOMS = [
  { rect: RECT_D, range: UP3_BOTTOM_RANGE, time: UP3_YIELD_TIME, values: UP3_YIELD, errors: UP3_YIELD_ERR, errColor: "#3a3a3a", line: true, bands: UP3_BANDS, bandColor: GREEN_BAND, fontSize: 11, xPad: 3 },
  { rect: RECT_E, range: UP2_BOTTOM_RANGE, time: UP2_YIELD_TIME, values: UP2_YIELD, errors: UP2_YIELD_ERR, errColor: "#3a3a3a", line: true, bands: UP2_BANDS, bandColor: BLUE_BAND, fontSize: 11.5, xPad: 2 },
  { rect: RECT_F, range: UP4_BOTTOM_RANGE, time: UP4_YIELD_TIME, values: UP4_YIELD, errors: UP4_YIELD_ERR, errColor: "#777", line: false, bands: undefined, bandColor: GREEN_BAND, fontSize: 11.5, xPad: 2 },
];

export default function App() {
  return (
    <div style={{ position: "absolute", left: 0, top: 0, width: 1212, height: 604, background: "#fff", fontFamily: FONT }}>
      <div style={{ position: "absolute", left: 8, top: 9, width: 1204, height: 2, background: "#747474" }} />
      <div style={{ position: "absolute", left: 7, top: 9, width: 2, height: 595, background: "#3a3a3a" }} />

      {TOPS.map((p, i) => (
        <ChartCanvas key={"t" + i} geom={topGeom(p.rect)} config={topConfig(p)} />
      ))}
      {BOTTOMS.map((p, i) => (
        <ChartCanvas key={"b" + i} geom={botGeom(p.rect)} config={bottomConfig(p)} />
      ))}

      <Txt x={221} y={35} size={17}>UP3</Txt>
      <Txt x={612} y={35} size={17}>UP2</Txt>
      <Txt x={1005} y={33} size={17}>UP4</Txt>

      <Txt x={46} y={166} size={11.5} rot>EF FDOM</Txt>
      <Txt x={430} y={165} size={11.5} rot>EF FDOM</Txt>
      <Txt x={818} y={167} size={11.5} rot>EF FDOM</Txt>
      <Txt x={413} y={170} size={12} rot><Wind /></Txt>
      <Txt x={793} y={169} size={12} rot><Wind /></Txt>
      <Txt x={1185} y={168} size={12} rot><Wind /></Txt>

      <Txt x={57} y={447} size={10.3} rot>Photosynthetic Yield</Txt>
      <Txt x={435} y={454} size={12} rot>Photosynthetic Yield</Txt>
      <Txt x={817} y={455} size={12} rot>Photosynthetic Yield</Txt>

      <Txt x={237} y={585} size={11.4}>Time (UTC)</Txt>
      <Txt x={623} y={591} size={12}>Time (UTC)</Txt>
      <Txt x={1001} y={592} size={11.6}>Time (UTC)</Txt>

      <Txt x={96} y={63} size={10}>A</Txt>
      <Txt x={481} y={64} size={11}>B</Txt>
      <Txt x={862} y={61} size={10.5}>C</Txt>
      <Txt x={100} y={344} size={9.5}>D</Txt>
      <Txt x={481} y={341} size={11}>E</Txt>
      <Txt x={862} y={348} size={11}>F</Txt>
    </div>
  );
}
